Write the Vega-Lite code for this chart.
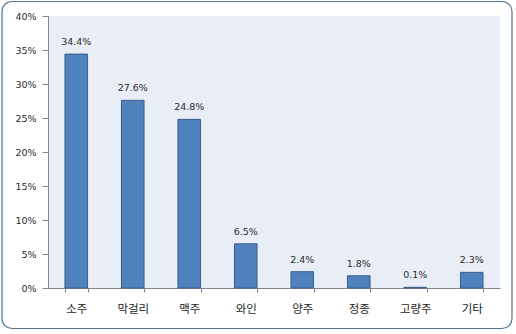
{
  "$schema": "https://vega.github.io/schema/vega-lite/v6.json",
  "width": 452,
  "height": 272,
  "autosize": {"type": "none"},
  "padding": {"left": 48, "top": 16, "right": 16, "bottom": 46},
  "background": "white",
  "config": {
    "view": {"fill": "#e9edf5", "stroke": null},
    "axis": {"domainColor": "#868686", "tickColor": "#868686", "grid": false, "labelColor": "#2b2b2b"}
  },
  "data": {
    "values": [
      {"category": "소주", "share": 0.344},
      {"category": "막걸리", "share": 0.276},
      {"category": "맥주", "share": 0.248},
      {"category": "와인", "share": 0.065},
      {"category": "양주", "share": 0.024},
      {"category": "정종", "share": 0.018},
      {"category": "고량주", "share": 0.001},
      {"category": "기타", "share": 0.023}
    ]
  },
  "layer": [
    {
      "data": {"values": [{}]},
      "mark": {"type": "rect", "x": -46, "x2": {"expr": "width + 12"}, "y": -14.5, "y2": {"expr": "height + 40.5"},
               "cornerRadius": 10, "fill": null, "stroke": "#4e7391", "strokeWidth": 1.2, "clip": false},
      "encoding": {}
    },
    {
      "encoding": {
        "x": {
          "field": "category", "type": "nominal", "sort": null, "title": null,
          "scale": {"paddingInner": 0.6, "paddingOuter": 0.3},
          "axis": {"labelAngle": 0, "tickBand": "extent", "tickSize": 4, "labelPadding": 11,
                   "labelFont": "Noto Sans CJK KR", "labelFontSize": 11.5, "labelColor": "#1e1e1e"}
        },
        "y": {
          "field": "share", "type": "quantitative", "title": null,
          "scale": {"domain": [0, 0.4], "nice": false},
          "axis": {"values": [0, 0.05, 0.1, 0.15, 0.2, 0.25, 0.3, 0.35, 0.4], "format": ".0%", "labelOverlap": false,
                   "tickSize": 6, "labelPadding": 6, "labelFont": "DejaVu Sans", "labelFontSize": 9.5}
        }
      },
      "layer": [
        {
          "mark": {"type": "bar", "fill": "#4f81bd", "stroke": "#3a5f8c", "strokeWidth": 1}
        },
        {
          "mark": {"type": "text", "baseline": "alphabetic", "dy": -9, "font": "DejaVu Sans", "fontSize": 9.5, "color": "#2b2b2b"},
          "encoding": {
            "text": {"field": "share", "type": "quantitative", "format": ".1%"}
          }
        }
      ]
    }
  ]
}
